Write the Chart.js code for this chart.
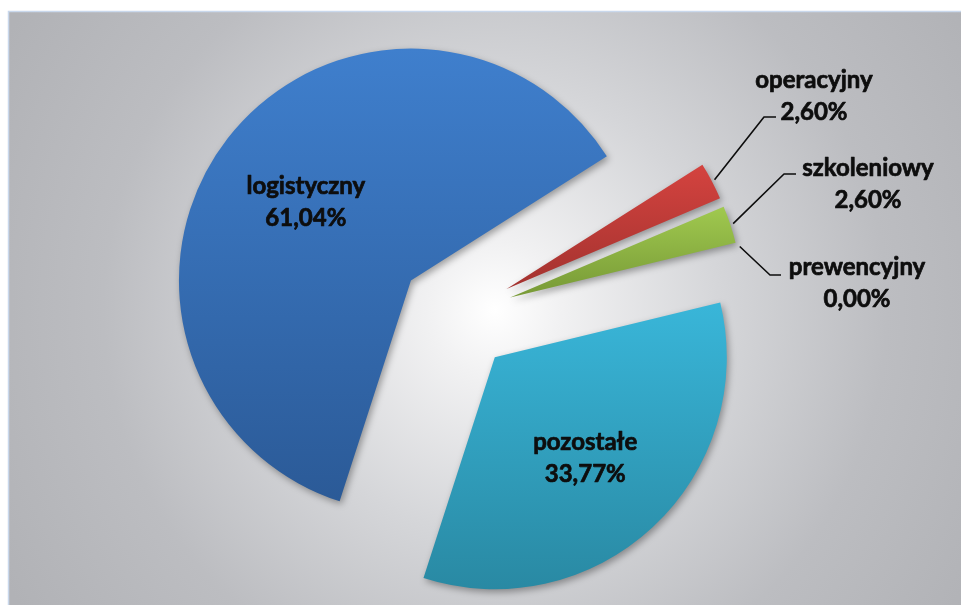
<!DOCTYPE html>
<html>
<head>
<meta charset="utf-8">
<script src="https://cdn.jsdelivr.net/npm/chart.js@4.4.0/dist/chart.umd.min.js"></script>
<style>
  html, body { margin: 0; padding: 0; background: #fff; }
  #wrap { width: 961px; height: 605px; position: relative; }
</style>
</head>
<body>
<div id="wrap"><canvas id="pieChart"></canvas></div>
<script>
// Struktura wydatków wg kategorii (%)
const labels = ['logistyczny', 'operacyjny', 'szkoleniowy', 'prewencyjny', 'pozostałe'];
const values = [61.04, 2.60, 2.60, 0.00, 33.77];

// Kolory wycinków: góra / dół gradientu
const sliceTop = ['#3f7fcd', '#d4433f', '#a0c94f', '#a0c94f', '#39b6d9'];
const sliceBottom = ['#2b5a97', '#a3322f', '#779936', '#779936', '#2989a3'];

const ROTATION = 197.9;   // kąt startowy w stopniach
const RADIUS = 232;       // promień wycinka
const EXPLODE = 57;       // odsunięcie wycinków od środka
const FONT = 'bold 24px Lato, "Open Sans", sans-serif';

// Etykiety wewnątrz wycinków
const insideLabels = [0, 4];
// Etykiety z linią odniesienia: środek tekstu, punkt załamania linii
const callouts = {
  1: { x: 814, y: 88, elbowX: 764, elbowY: 117, endX: 776 },
  2: { x: 868, y: 176, elbowX: 784, elbowY: 174, endX: 796 },
  3: { x: 857, y: 275, elbowX: 770, elbowY: 275, endX: 781 }
};

function formatPct(v) {
  return v.toFixed(2).replace('.', ',') + '%';
}

// Pionowy gradient dopasowany do rozmiaru konkretnego wycinka
function sliceGradient(c) {
  const chart = c.chart;
  const area = chart.chartArea;
  const i = c.dataIndex;
  if (!area) return sliceTop[i];
  const cy = (area.top + area.bottom) / 2;
  const total = values.reduce((a, b) => a + b, 0);
  let a0 = ROTATION * Math.PI / 180 - Math.PI / 2;
  for (let k = 0; k < i; k++) a0 += 2 * Math.PI * values[k] / total;
  const a1 = a0 + 2 * Math.PI * values[i] / total;
  const mid = (a0 + a1) / 2;
  const vy = cy + Math.sin(mid) * EXPLODE;
  const ys = [vy, vy + RADIUS * Math.sin(a0), vy + RADIUS * Math.sin(a1)];
  for (const t of [Math.PI / 2, -Math.PI / 2]) {
    for (let k = -2; k <= 2; k++) {
      const a = t + 2 * Math.PI * k;
      if (a > a0 && a < a1) ys.push(vy + RADIUS * Math.sin(a));
    }
  }
  const y0 = Math.min(...ys), y1 = Math.max(...ys);
  const g = chart.ctx.createLinearGradient(0, y0, 0, Math.max(y1, y0 + 1));
  g.addColorStop(0, sliceTop[i]);
  g.addColorStop(1, sliceBottom[i]);
  return g;
}

// Tło: biały środek przechodzący w szary
const backgroundPlugin = {
  id: 'panelBackground',
  beforeDraw(chart) {
    const ctx = chart.ctx;
    ctx.save();
    ctx.fillStyle = '#ffffff';
    ctx.fillRect(0, 0, chart.width, chart.height);
    const g = ctx.createRadialGradient(495, 310, 0, 495, 310, 560);
    g.addColorStop(0, '#ffffff');
    g.addColorStop(0.12, '#f1f1f2');
    g.addColorStop(0.4, '#d5d6d9');
    g.addColorStop(0.7, '#bcbdc1');
    g.addColorStop(1, '#b1b2b6');
    ctx.fillStyle = g;
    ctx.fillRect(8, 11, chart.width - 8, chart.height - 11);
    ctx.strokeStyle = '#c9d8ec';
    ctx.lineWidth = 1.5;
    ctx.beginPath();
    ctx.moveTo(8.5, chart.height);
    ctx.lineTo(8.5, 11.5);
    ctx.lineTo(chart.width, 11.5);
    ctx.stroke();
    ctx.restore();
  }
};

// Rozsunięcie wycinków wzdłuż dwusiecznej
const explodePlugin = {
  id: 'explode',
  afterDatasetsUpdate(chart) {
    chart.getDatasetMeta(0).data.forEach(arc => {
      const mid = (arc.startAngle + arc.endAngle) / 2;
      arc.x += Math.cos(mid) * EXPLODE;
      arc.y += Math.sin(mid) * EXPLODE;
    });
  },
  beforeDatasetDraw(chart) {
    const ctx = chart.ctx;
    ctx.save();
    ctx.shadowColor = 'rgba(0, 0, 0, 0.35)';
    ctx.shadowBlur = 7;
    ctx.shadowOffsetX = 2;
    ctx.shadowOffsetY = 3;
  },
  afterDatasetDraw(chart) {
    chart.ctx.restore();
  }
};

// Tekst pogrubiony dodatkowym obrysem
function boldText(ctx, text, x, y) {
  ctx.strokeText(text, x, y);
  ctx.fillText(text, x, y);
}

// Etykiety danych
const labelPlugin = {
  id: 'sliceLabels',
  afterDatasetsDraw(chart) {
    const ctx = chart.ctx;
    const arcs = chart.getDatasetMeta(0).data;
    ctx.save();
    ctx.font = FONT;
    ctx.fillStyle = '#0d0d0d';
    ctx.textAlign = 'center';
    ctx.textBaseline = 'alphabetic';
    ctx.lineJoin = 'round';

    ctx.strokeStyle = '#0d0d0d';
    insideLabels.forEach(i => {
      const arc = arcs[i];
      const mid = (arc.startAngle + arc.endAngle) / 2;
      const x = arc.x + Math.cos(mid) * arc.outerRadius * 0.573;
      const y = arc.y + Math.sin(mid) * arc.outerRadius * 0.573;
      ctx.lineWidth = 0.7;
      boldText(ctx, labels[i], x, y - 5);
      boldText(ctx, formatPct(values[i]), x, y + 27);
    });

    Object.keys(callouts).forEach(key => {
      const i = Number(key);
      const c = callouts[i];
      const arc = arcs[i];
      const mid = (arc.startAngle + arc.endAngle) / 2;
      const sx = arc.x + Math.cos(mid) * (arc.outerRadius + 3);
      const sy = arc.y + Math.sin(mid) * (arc.outerRadius + 3);
      ctx.lineWidth = 1.6;
      ctx.beginPath();
      ctx.moveTo(sx, sy);
      ctx.lineTo(c.elbowX, c.elbowY);
      ctx.lineTo(c.endX, c.elbowY);
      ctx.stroke();
      ctx.lineWidth = 0.7;
      boldText(ctx, labels[i], c.x, c.y);
      boldText(ctx, formatPct(values[i]), c.x, c.y + 32);
    });
    ctx.restore();
  }
};

const ctx = document.getElementById('pieChart').getContext('2d');
const chart = new Chart(ctx, {
  type: 'pie',
  data: {
    labels: labels,
    datasets: [{
      data: values,
      backgroundColor: sliceGradient,
      borderWidth: 0,
      rotation: ROTATION,
      radius: RADIUS
    }]
  },
  options: {
    responsive: true,
    maintainAspectRatio: false,
    animation: false,
    events: [],
    layout: { padding: { left: 0, right: 49, top: 26, bottom: 0 } },
    plugins: {
      legend: { display: false },
      tooltip: { enabled: false }
    }
  },
  plugins: [backgroundPlugin, explodePlugin, labelPlugin]
});
</script>
</body>
</html>
